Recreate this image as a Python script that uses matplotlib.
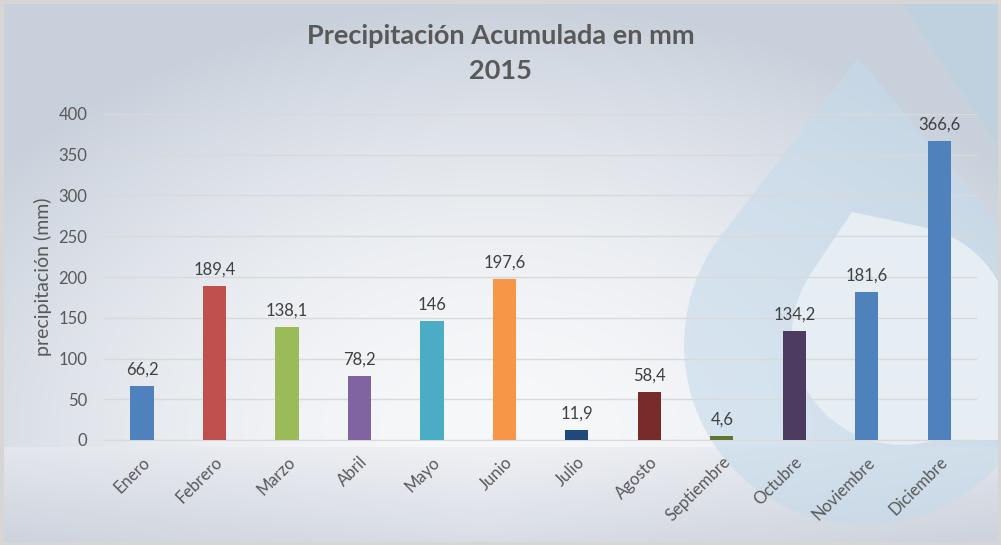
import matplotlib
matplotlib.use('Agg')
import matplotlib.pyplot as plt
import numpy as np
from matplotlib.patches import Polygon, Rectangle

meses = ['Enero', 'Febrero', 'Marzo', 'Abril', 'Mayo', 'Junio', 'Julio',
         'Agosto', 'Septiembre', 'Octubre', 'Noviembre', 'Diciembre']
precip = [66.2, 189.4, 138.1, 78.2, 146, 197.6, 11.9, 58.4, 4.6, 134.2, 181.6, 366.6]
colores = ['#4F81BD', '#C0504D', '#9BBB59', '#8064A2', '#4BACC6', '#F79646',
           '#1F497D', '#772C2A', '#5F7530', '#4D3B62', '#4F81BD', '#4F81BD']
yticks = [0, 50, 100, 150, 200, 250, 300, 350, 400]

plt.rcParams['font.family'] = ['Lato', 'DejaVu Sans']

W, H = 1001, 545
fig = plt.figure(figsize=(W / 100, H / 100), dpi=100)

# fondo degradado
bg = fig.add_axes([0, 0, 1, 1], zorder=-5)
bg.set_xlim(0, W)
bg.set_ylim(H, 0)
bg.axis('off')
yy, xx = np.mgrid[0:H, 0:W].astype(float)
light = np.array([247, 248, 250]) / 255
dark = np.array([200, 208, 219]) / 255
t = np.clip(((xx - 500) / 640) ** 2 + ((yy - 430) / 430) ** 2, 0, 1) ** 0.9
img = light + (dark - light) * t[..., None]
band = yy >= 447
s = (yy - 447) / 98
h = np.abs(xx - 480) / 520
tb = np.clip(0.1 + 0.6 * s + 0.35 * h, 0, 1)
top_b = np.array([243, 244, 247]) / 255
bot_b = np.array([205, 211, 221]) / 255
img_b = top_b + (bot_b - top_b) * tb[..., None]
img[band] = img_b[band]
bg.imshow(img, extent=[0, W, H, 0], aspect='auto', zorder=0)


def drop(apex, c, r, n=80):
    ax_, ay_ = apex
    cx, cy = c
    L = np.hypot(ax_ - cx, ay_ - cy)
    phi = np.arctan2(ay_ - cy, ax_ - cx)
    a = np.arccos(r / L)
    ang = np.linspace(phi + a, phi + 2 * np.pi - a, n)
    pts = [(ax_, ay_)] + [(cx + r * np.cos(q), cy + r * np.sin(q)) for q in ang]
    return pts


bg.add_patch(Polygon([(900, 0), (W, 0), (W, 150)], closed=True,
                     facecolor='#BCD0E0', edgecolor='none', alpha=0.7, zorder=1))
bg.add_patch(Polygon(drop((858, 58), (864, 345), 180), closed=True,
                     facecolor='#C6DBEB', edgecolor='none', alpha=0.6, zorder=1))
bg.add_patch(Polygon(drop((852, 212), (902, 335), 110), closed=True,
                     facecolor='#E6EDF3', edgecolor='none', zorder=2))
bg.add_patch(Rectangle((905, 305), W - 905, 135,
                       facecolor='#E6EDF3', edgecolor='none', zorder=2))
bg.add_patch(Rectangle((1.5, 1.5), W - 3, H - 3, facecolor='none',
                       edgecolor='#D6D6D6', linewidth=3, zorder=3))

ax = fig.add_axes([104 / W, 105 / H, 873 / W, 326 / H])
ax.set_facecolor('none')
x = np.arange(len(meses))
bars = ax.bar(x, precip, width=0.32, color=colores, zorder=3)

for xi, v in zip(x, precip):
    etiqueta = f'{v:g}'.replace('.', ',')
    ax.annotate(etiqueta, (xi, v), xytext=(0, 6), textcoords='offset points',
                ha='center', va='bottom', fontsize=12, color='#404040')

ax.set_xlim(-0.524, 11.52)
ax.set_ylim(0, 400)
ax.set_yticks(yticks)
ax.grid(axis='y', color='#D9D9D9', linewidth=1)
ax.set_axisbelow(True)
for sp in ['top', 'right', 'left']:
    ax.spines[sp].set_visible(False)
ax.spines['bottom'].set_color('#D9D9D9')
ax.tick_params(length=0, colors='#595959', labelsize=12)
ax.tick_params(axis='y', pad=12)
ax.set_xticks(x)
ax.set_xticklabels(meses, rotation=45, ha='right', rotation_mode='anchor')
ax.tick_params(axis='x', pad=10)
ax.set_ylabel('precipitación (mm)', fontsize=14, color='#595959', labelpad=5)

fig.text(0.5, 1 - 36 / H, 'Precipitación Acumulada en mm', ha='center', va='center',
         fontsize=19.5, fontweight='bold', color='#595959')
fig.text(0.5, 1 - 71 / H, '2015', ha='center', va='center',
         fontsize=19.5, fontweight='bold', color='#595959')

fig.savefig('out.png', dpi=100)
